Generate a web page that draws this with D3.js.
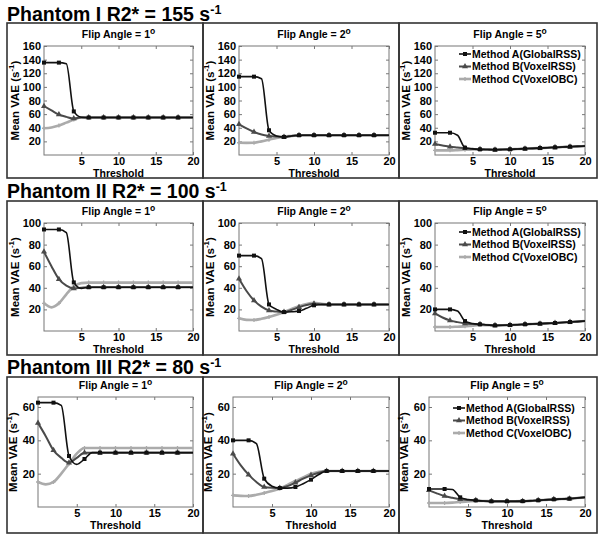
<!DOCTYPE html>
<html><head><meta charset="utf-8">
<script src="https://cdn.jsdelivr.net/npm/d3@7"></script>
<style>
body{margin:0;background:#fff}
svg{display:block}
text{font-family:"Liberation Sans",Arial,Helvetica,sans-serif;font-weight:bold;fill:#000}
</style>
</head><body><svg id="c" width="600" height="537"></svg>
<script>
// ---------------- data ----------------
const thresholds = [0,1,2,3,4,5,6,7,8,9,10,11,12,13,14,15,16,17,18,19,20];
const markerThresholds = [0,2,4,6,8,10,12,14,16,18];
const phantomNames = ["Phantom I R2* = 155 s", "Phantom II R2* = 100 s", "Phantom III R2* = 80 s"];
const flipAngles = ["1", "2", "5"];
const methodNames = ["Method A(GlobalRSS)", "Method B(VoxelRSS)", "Method C(VoxelOBC)"];
const yMaxes = [160, 100, 66];
const yTicksPh1 = [20,40,60,80,100,120,140,160];
const yTicksPh2 = [20,40,60,80,100];
const yTicksPh3 = [20,40,60];
const xTicks = [5,10,15,20];

// Phantom I
const ph1_fa1_A = [135.6,135.6,135.6,134,64,55.5,55,55,55,55,55,55,55,55,55,55,55,55,55,55,55];
const ph1_fa1_B = [71.7,65.5,59.4,56,53.5,55,55,55,55,55,55,55,55,55,55,55,55,55,55,55,55];
const ph1_fa1_C = [39.3,40.5,43.2,47.5,52,55,55,55,55,55,55,55,55,55,55,55,55,55,55,55,55];
const ph1_fa2_A = [115,115,115,112,36.3,28,26.5,28,29,29,29,29,29,29,29,29,29,29,29,29,29];
const ph1_fa2_B = [45,39,33.8,30,28,27,26.5,28,29,29,29,29,29,29,29,29,29,29,29,29,29];
const ph1_fa2_C = [18,17.8,18,20,22.5,25,27,28,29,29,29,29,29,29,29,29,29,29,29,29,29];
const ph1_fa5_A = [32.7,32.7,32.7,29,10.7,9,8.3,8,7.8,8,8.3,8.8,9.3,9.7,10.2,10.7,11.2,11.7,12.2,12.7,13.2];
const ph1_fa5_B = [16,14,12.2,11,9.8,9,8.3,8,7.8,8,8.3,8.8,9.3,9.7,10.2,10.7,11.2,11.7,12.2,12.7,13.2];
const ph1_fa5_C = [6.8,6.8,6.8,7.2,7.8,8,8.2,8,7.8,8,8.3,8.8,9.3,9.7,10.2,10.7,11.2,11.7,12.2,12.7,13.2];
// Phantom II
const ph2_fa1_A = [94,94,94,91,45,39.5,40.5,40.5,40.5,40.5,40.5,40.5,40.5,40.5,40.5,40.5,40.5,40.5,40.5,40.5,40.5];
const ph2_fa1_B = [73.3,60,48,42,39.4,40,40.5,40.5,40.5,40.5,40.5,40.5,40.5,40.5,40.5,40.5,40.5,40.5,40.5,40.5,40.5];
const ph2_fa1_C = [25.6,21.9,25.6,34,41.3,44.3,44.8,44.8,44.8,44.8,44.8,44.8,44.8,44.8,44.8,44.8,44.8,44.8,44.8,44.8,44.8];
const ph2_fa2_A = [69.8,69.8,69.8,67,24.6,20,17.5,17.8,18.5,21,23.8,24.4,24.6,24.6,24.6,24.6,24.6,24.6,24.6,24.6,24.6];
const ph2_fa2_B = [48.3,37,28.3,22.5,19,18,17.5,19.5,22,24,25.2,24.8,24.6,24.6,24.6,24.6,24.6,24.6,24.6,24.6,24.6];
const ph2_fa2_C = [11.7,10.3,10.2,11.3,13,15,17.5,20.5,23,25,26,25.2,24.6,24.6,24.6,24.6,24.6,24.6,24.6,24.6,24.6];
const ph2_fa5_A = [20,20,20,18.5,9.2,7,6.2,5.6,5.2,5.3,5.5,5.8,6.2,6.5,6.8,7.1,7.4,7.8,8.3,8.7,9.2];
const ph2_fa5_B = [16.3,12.5,9.8,8.2,7,6.5,6.2,5.6,5.2,5.3,5.5,5.8,6.2,6.5,6.8,7.1,7.4,7.8,8.3,8.7,9.2];
const ph2_fa5_C = [3.7,3.7,3.7,4,4.3,5,5.6,5.4,5.2,5.3,5.5,5.8,6.2,6.5,6.8,7.1,7.4,7.8,8.3,8.7,9.2];
// Phantom III
const ph3_fa1_A = [62.6,62.6,62.6,61,30.6,25.6,28.8,32.6,32.6,32.6,32.6,32.6,32.6,32.6,32.6,32.6,32.6,32.6,32.6,32.6,32.6];
const ph3_fa1_B = [50.4,42.5,34,29.5,26.6,29.5,32.6,32.6,32.6,32.6,32.6,32.6,32.6,32.6,32.6,32.6,32.6,32.6,32.6,32.6,32.6];
const ph3_fa1_C = [15,13.6,15,20,26,32,35.4,35.4,35.4,35.4,35.4,35.4,35.4,35.4,35.4,35.4,35.4,35.4,35.4,35.4,35.4];
const ph3_fa2_A = [40,40,40,38,17,12.5,11.4,11.3,12,14,16.4,19.5,21.6,21.6,21.6,21.6,21.6,21.6,21.6,21.6,21.6];
const ph3_fa2_B = [32,25,19.4,15,12,11.5,11.4,12.5,14.6,17,19,20.5,21.6,21.6,21.6,21.6,21.6,21.6,21.6,21.6,21.6];
const ph3_fa2_C = [7,6.7,6.6,7.3,8.4,9.6,11,13.3,15.6,17.8,20,21.2,21.6,21.6,21.6,21.6,21.6,21.6,21.6,21.6,21.6];
const ph3_fa5_A = [10.8,10.8,10.8,10.5,5.8,4.5,4,3.6,3.4,3.4,3.4,3.4,3.5,3.7,4,4.3,4.6,4.8,5,5.4,5.8];
const ph3_fa5_B = [10,8.2,6.6,5.5,4.6,4.2,4,3.6,3.4,3.4,3.4,3.4,3.5,3.7,4,4.3,4.6,4.8,5,5.4,5.8];
const ph3_fa5_C = [2.4,2.4,2.4,2.6,3,3.3,3.6,3.6,3.4,3.4,3.4,3.4,3.5,3.7,4,4.3,4.6,4.8,5,5.4,5.8];

const seriesTable = [
  [[ph1_fa1_A,ph1_fa1_B,ph1_fa1_C],[ph1_fa2_A,ph1_fa2_B,ph1_fa2_C],[ph1_fa5_A,ph1_fa5_B,ph1_fa5_C]],
  [[ph2_fa1_A,ph2_fa1_B,ph2_fa1_C],[ph2_fa2_A,ph2_fa2_B,ph2_fa2_C],[ph2_fa5_A,ph2_fa5_B,ph2_fa5_C]],
  [[ph3_fa1_A,ph3_fa1_B,ph3_fa1_C],[ph3_fa2_A,ph3_fa2_B,ph3_fa2_C],[ph3_fa5_A,ph3_fa5_B,ph3_fa5_C]]
];
const yTicksTable = [yTicksPh1, yTicksPh2, yTicksPh3];

// ---------------- layout / style ----------------
const rows = [
  {titleY:21, boxTop:23, boxBottom:178, plotTop:46, plotBottom:155, ylabOff:25, plotX:[[44,193],[239,389],[435,585]]},
  {titleY:198, boxTop:201, boxBottom:355, plotTop:223, plotBottom:331, ylabOff:25, plotX:[[44,193],[239,389],[435,585]]},
  {titleY:374, boxTop:377, boxBottom:533, plotTop:397, plotBottom:507, ylabOff:21, plotX:[[38,193],[233,389],[429,585]]}
];
const boxX = [[7,203],[203,399],[399,597]];
const styles = [
  {color:"#111", width:1.6, marker:"square"},
  {color:"#4a4a4a", width:2, marker:"triangle"},
  {color:"#ababab", width:2.6, marker:"plus"}
];

const svg = d3.select("#c");

function drawMarker(g, type, x, y, color) {
  if (type === "square") {
    g.append("rect").attr("x", x-2).attr("y", y-2).attr("width", 4).attr("height", 4).attr("fill", color);
  } else if (type === "triangle") {
    g.append("path").attr("d", d3.symbol(d3.symbolTriangle, 16)()).attr("transform", `translate(${x},${y})`).attr("fill", color);
  } else {
    g.append("path").attr("d", `M${x-2},${y}H${x+2}M${x},${y-2}V${y+2}`).attr("stroke", color).attr("stroke-width", 1.3);
  }
}

rows.forEach((r, ri) => {
  // row title
  const t = svg.append("text").attr("x", 7).attr("y", r.titleY).attr("font-size", 19.5).text(phantomNames[ri]);
  t.append("tspan").attr("dy", -7.5).attr("font-size", 12.5).text("-1");

  for (let pi = 0; pi < 3; pi++) {
    const [bx0, bx1] = boxX[pi];
    svg.append("rect").attr("x", bx0).attr("y", r.boxTop).attr("width", bx1-bx0).attr("height", r.boxBottom-r.boxTop)
      .attr("fill", "none").attr("stroke", "#333").attr("stroke-width", 1.6);

    const [px0, px1] = r.plotX[pi];
    const x = d3.scaleLinear().domain([0,20]).range([px0, px1]);
    const y = d3.scaleLinear().domain([0, yMaxes[ri]]).range([r.plotBottom, r.plotTop]);
    const g = svg.append("g");

    // frame
    g.append("rect").attr("x", px0).attr("y", r.plotTop).attr("width", px1-px0).attr("height", r.plotBottom-r.plotTop)
      .attr("fill", "#fff").attr("stroke", "#777").attr("stroke-width", 1);

    // axes
    const xAx = g.append("g").attr("transform", `translate(0,${r.plotBottom})`)
      .call(d3.axisBottom(x).tickValues(xTicks).tickSizeInner(-3).tickSizeOuter(0).tickPadding(0));
    const xTop = g.append("g").attr("transform", `translate(0,${r.plotTop})`)
      .call(d3.axisTop(x).tickValues(xTicks).tickSizeInner(-3).tickSizeOuter(0).tickFormat(""));
    const yAx = g.append("g").attr("transform", `translate(${px0},0)`)
      .call(d3.axisLeft(y).tickValues(yTicksTable[ri]).tickSizeInner(-3).tickSizeOuter(0).tickPadding(3));
    const yR = g.append("g").attr("transform", `translate(${px1},0)`)
      .call(d3.axisRight(y).tickValues(yTicksTable[ri]).tickSizeInner(-3).tickSizeOuter(0).tickFormat(""));
    [xAx, xTop, yAx, yR].forEach(a => { a.select(".domain").remove(); a.selectAll("line").attr("stroke", "#777"); });
    [xAx, yAx].forEach(a => a.selectAll("text").attr("font-size", 11).attr("font-family", null).attr("fill", "#000"));
    xAx.selectAll("text").attr("y", 9.5).attr("dy", 0);

    // title
    const tt = g.append("text").attr("x", (px0+px1)/2).attr("y", r.plotTop-8).attr("text-anchor", "middle").attr("font-size", 10.5)
      .text("Flip Angle = " + flipAngles[pi]);
    tt.append("tspan").attr("dy", -4).attr("font-size", 8.5).text("o");

    // x label
    g.append("text").attr("x", (px0+px1)/2).attr("y", r.plotBottom+21.5).attr("text-anchor", "middle").attr("font-size", 10.5).text("Threshold");

    // y label
    const yl = g.append("text").attr("transform", `translate(${px0 - r.ylabOff},${(r.plotTop+r.plotBottom)/2}) rotate(-90)`)
      .attr("text-anchor", "middle").attr("font-size", 11.5).text("Mean VAE (s");
    yl.append("tspan").attr("dy", -5).attr("font-size", 8).text("-1");
    yl.append("tspan").attr("dy", 5).text(")");

    // series
    const line = d3.line().x((d, i) => x(thresholds[i])).y(d => y(d)).curve(d3.curveMonotoneX);
    const ser = seriesTable[ri][pi];
    for (let si = 2; si >= 0; si--) {
      const st = styles[si];
      g.append("path").attr("d", line(ser[si])).attr("fill", "none").attr("stroke", st.color)
        .attr("stroke-width", st.width).attr("stroke-linejoin", "round");
      markerThresholds.forEach(tv => {
        const idx = thresholds.indexOf(tv);
        drawMarker(g, st.marker, x(tv), y(ser[si][idx]), st.color);
      });
    }

    // legend
    if (pi === 2) {
      const lx = px0 + 24;
      const ly0 = r.boxTop + 31;
      methodNames.forEach((m, mi) => {
        const ly = ly0 + mi * 12.5;
        const st = styles[mi];
        g.append("line").attr("x1", lx).attr("x2", lx+12).attr("y1", ly).attr("y2", ly).attr("stroke", st.color).attr("stroke-width", st.width);
        drawMarker(g, st.marker, lx+6, ly, st.color);
        g.append("text").attr("x", lx+13).attr("y", ly).attr("dy", "0.35em").attr("font-size", 10.5).text(m);
      });
    }
  }
});
</script>
</body></html>
